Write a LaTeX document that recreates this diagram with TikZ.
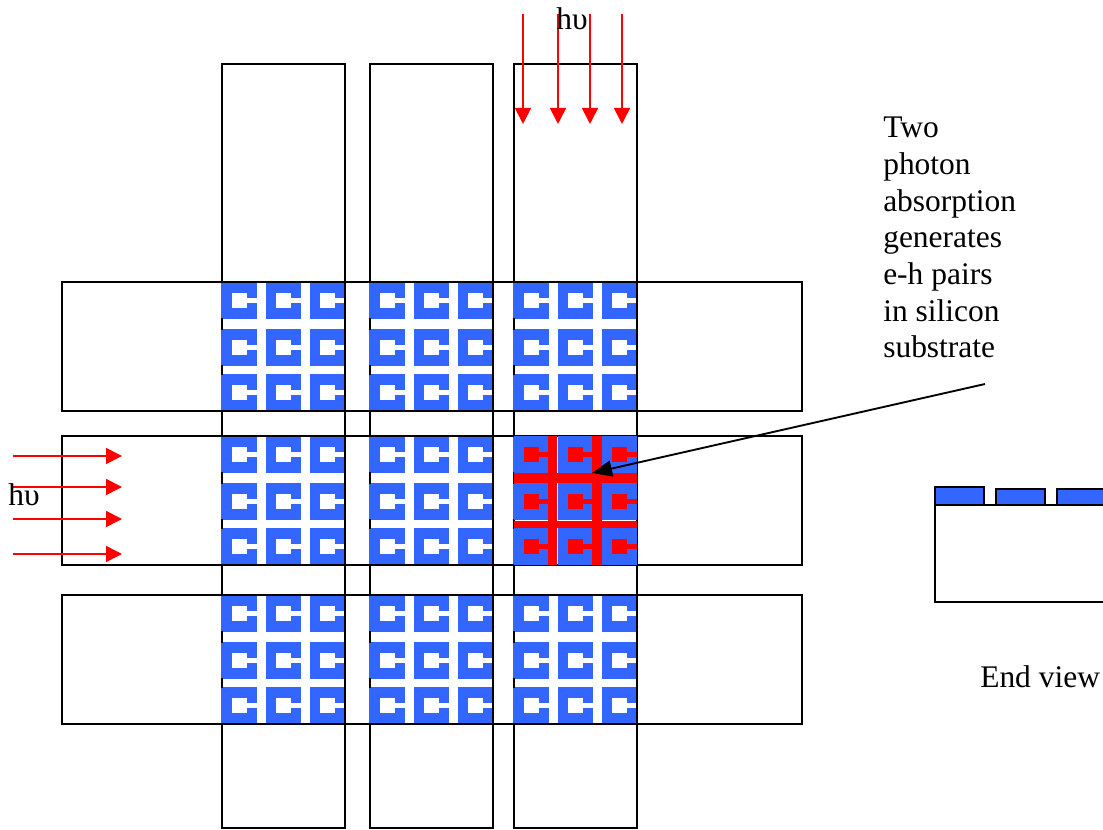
\documentclass[tikz,border=0pt]{standalone}
\usepackage{xcolor}
\usepackage{fontspec}
\setmainfont{Liberation Serif}
\usetikzlibrary{arrows.meta,positioning}
\definecolor{SRRBlue}{RGB}{51,102,255}
\definecolor{BeamRed}{RGB}{255,0,0}
\tikzset{
  guide/.style={draw=black,line width=1.4pt},
  photon/.style={draw=BeamRed,line width=1.2pt,-{Triangle[length=12pt,width=12pt]}},
  pointer/.style={draw=black,line width=1.4pt,-{Triangle[length=15pt,width=12pt]}},
  label/.style={inner sep=0pt,font=\fontsize{23.6}{27.5}\selectfont,align=left}
}
\newcommand{\srrcell}[3]{
  \fill[SRRBlue] (#1,#2) rectangle ++(35,37);
  \fill[#3] (#1+10,#2+11) rectangle ++(14.5,15);
  \fill[#3] (#1+24,#2+16) rectangle ++(11,5);
}
\begin{document}
\begin{tikzpicture}[x=0.75pt,y=-0.75pt]
  \useasboundingbox (0,0) rectangle (1103,830);
  % metamaterial cells
  \foreach \bx in {222,370,514}
    \foreach \by in {282,436,595}
      \foreach \cx in {0,44,88}
        \foreach \cy in {0,47,92}
          {\srrcell{\bx+\cx}{\by+\cy}{white}}
  % waveguides
  \foreach \wx in {222,370,514}
    \draw[guide] (\wx,64) rectangle ++(123,764);
  \foreach \wy in {282,436,595}
    \draw[guide] (62,\wy) rectangle ++(740,129);
  % blue runs over the left edge of each block
  \foreach \bx in {222,370,514}
    \foreach \by in {282,436,595}
      \foreach \cy in {0,47,92}
        {\fill[SRRBlue] (\bx-1,\by+\cy+1) rectangle ++(3,35);}
  % excited block
  \foreach \cx in {0,44,88}
    \foreach \cy in {0,47,92}
      {\srrcell{514+\cx}{436+\cy}{BeamRed}}
  \fill[BeamRed] (514,473) rectangle (637,483);
  \fill[BeamRed] (514,521) rectangle (637,528);
  \fill[BeamRed] (548,436) rectangle (557,565);
  \fill[BeamRed] (592,436) rectangle (602,565);
  % incoming light
  \foreach \px in {523,558,590,622}{
    \coordinate (top\px) at (\px,14);
    \coordinate (tip\px) at (\px,124);
    \draw[photon] (top\px) -- (tip\px);
  }
  \foreach \py in {456,487,519,554}{
    \coordinate (left\py) at (13,\py);
    \coordinate (end\py) at (122,\py);
    \draw[photon] (left\py) -- (end\py);
  }
  \node[label,anchor=base] (hvtop) at (572,30) {hυ};
  \node[label,anchor=base] (hvleft) at (24,505) {hυ};
  % annotation
  \node[label,anchor=north west] (note) at (883,117) {Two\\photon\\absorption\\generates\\e-h pairs\\in silicon\\substrate};
  \coordinate (notefoot) at (985,384);
  \coordinate (hotspot) at (592,473);
  \draw[pointer] (notefoot) -- (hotspot);
  % end view
  \fill[SRRBlue] (935,487) rectangle (984,505);
  \draw[guide] (935,487) rectangle (984,505);
  \fill[SRRBlue] (996,489) rectangle (1045,505);
  \draw[guide] (996,489) rectangle (1045,505);
  \fill[SRRBlue] (1057,489) rectangle (1103,505);
  \draw[guide] (1103,489) -- (1057,489) -- (1057,505);
  \draw[guide] (1103,505) -- (935,505) -- (935,602) -- (1103,602);
  \node[label,anchor=base west] (endview) at (980,687) {End view};
\end{tikzpicture}
\end{document}
